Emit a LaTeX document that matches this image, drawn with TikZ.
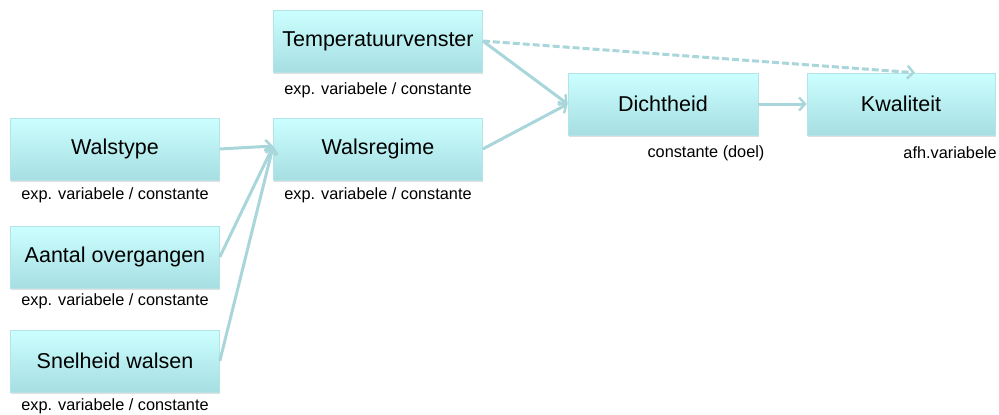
\documentclass[tikz,border=0pt]{standalone}
\usepackage{fontspec}
\setmainfont{Liberation Sans}
\usetikzlibrary{arrows.meta,shadows,calc}
\definecolor{boxtop}{HTML}{CCFFFF}
\definecolor{boxbot}{HTML}{A6DEE2}
\definecolor{boxedge}{HTML}{B4E4E8}
\definecolor{arr}{HTML}{A9D6DA}
\begin{document}
\begin{tikzpicture}[x=1pt,y=-1pt,
  box/.style={draw=boxedge,line width=0.6pt,top color=boxtop,bottom color=boxbot,
    minimum width=209pt,minimum height=62pt,inner sep=0pt,font=\fontsize{21.5}{24}\selectfont,
    drop shadow={opacity=0.25,shadow xshift=0.6pt,shadow yshift=-1.8pt}},
  lab/.style={font=\fontsize{16.3}{19}\selectfont,inner sep=0pt},
  conn/.style={draw=arr,line width=3pt,-{Straight Barb[length=6pt,width=13pt,line width=2.4pt]}},
  dconn/.style={conn,dash pattern=on 7pt off 3pt}]
\useasboundingbox (0,0) rectangle (999,415);
\node[box] (walstype) at (115,149) {Walstype};
\node[box] (aantal) at (115,257) {Aantal overgangen};
\node[box] (snelheid) at (115,361) {Snelheid walsen};
\node[box] (temp) at (378,41) {Temperatuurvenster};
\node[box] (walsregime) at (378,149) {Walsregime};
\node[box,minimum width=190pt] (dicht) at (663,104) {Dichtheid};
\node[box,minimum width=188pt] (kwal) at (901,104) {Kwaliteit};
\node[lab] (l1) at (115,195) {exp. variabele / constante};
\node[lab] (l2) at (115,301) {exp. variabele / constante};
\node[lab] (l3) at (115,406) {exp. variabele / constante};
\node[lab] (l4) at (378,90) {exp. variabele / constante};
\node[lab] (l5) at (378,195) {exp. variabele / constante};
\node[lab] (l6) at (706,153) {constante (doel)};
\node[lab,anchor=east] (l7) at (997,153) {afh.variabele};
\coordinate (wrin) at ($(walsregime.west)+(0,-3)$);
\coordinate (kwtop) at ($(kwal.north)+(14,0)$);
\draw[conn] (walstype.east) -- (wrin);
\draw[conn] (aantal.east) -- (wrin);
\draw[conn] (snelheid.east) -- (wrin);
\draw[conn] (walsregime.east) -- (dicht.west);
\draw[conn] (temp.east) -- (dicht.west);
\draw[dconn] (temp.east) -- (kwtop);
\draw[conn] (dicht.east) -- (kwal.west);
\end{tikzpicture}
\end{document}
